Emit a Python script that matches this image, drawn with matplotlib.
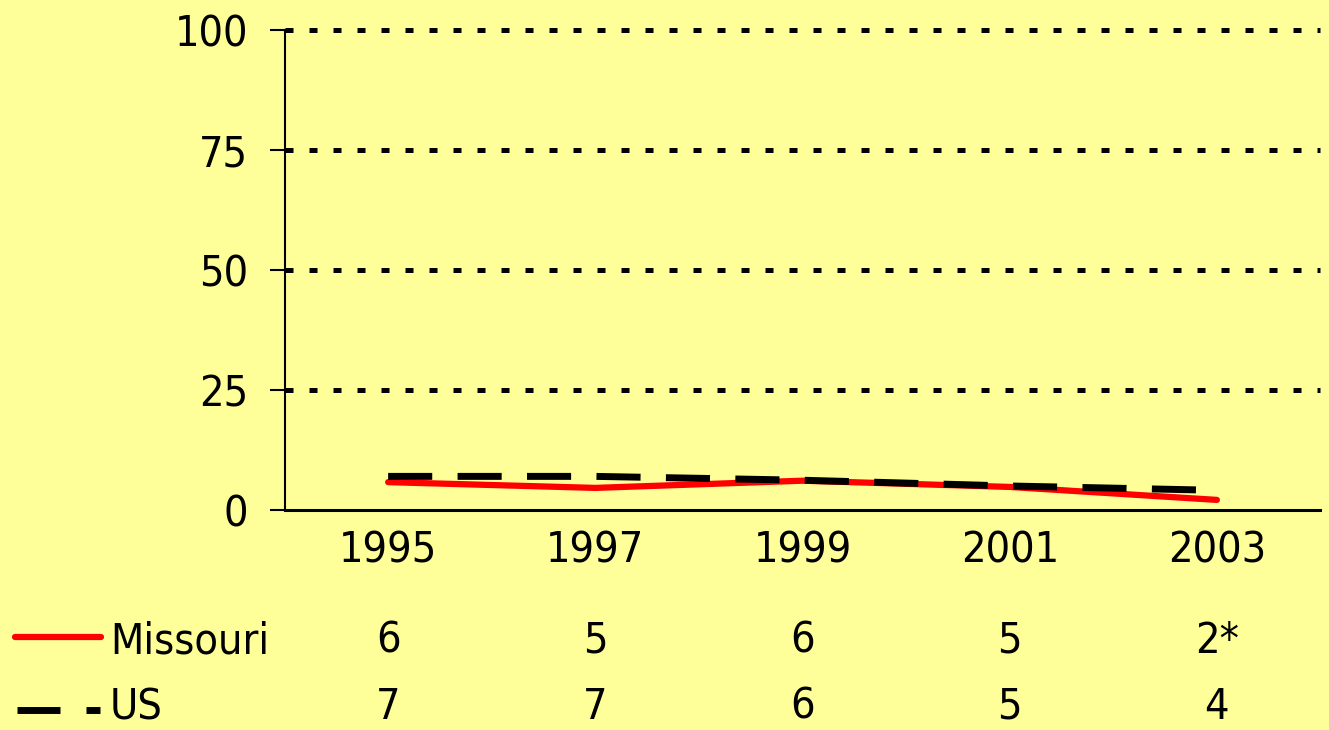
import matplotlib
matplotlib.use("Agg")
import matplotlib.pyplot as plt
from matplotlib.lines import Line2D
from matplotlib.font_manager import FontProperties

years = ["1995", "1997", "1999", "2001", "2003"]
missouri_line = [5.8, 4.6, 6.1, 4.8, 2.1]
us_line = [7.0, 7.0, 6.2, 5.0, 4.1]
missouri_labels = ["6", "5", "6", "5", "2*"]
us_labels = ["7", "7", "6", "5", "4"]
yticks = [0, 25, 50, 75, 100]

BG = "#FFFF99"
FS = 31
fp = FontProperties(family="DejaVu Sans", stretch="condensed", size=FS)

W, H = 1329, 730
fig = plt.figure(figsize=(W / 100, H / 100), dpi=100, facecolor=BG)
ax = fig.add_axes([0.2141, 0.3014, 0.7795, 0.6575], facecolor=BG)

x = list(range(len(years)))
for yv in yticks[1:]:
    ax.axhline(yv, color="black", lw=3.6, linestyle=(0, (1.6, 3.2)),
               dash_capstyle="butt", zorder=1, clip_on=False)

ax.plot(x, missouri_line, color="#FF0000", lw=4.5, solid_capstyle="round",
        solid_joinstyle="round", zorder=3)
ax.plot(x, us_line, color="black", lw=5.0, linestyle=(0, (6.35, 3.65)),
        dash_capstyle="butt", zorder=4)

ax.set_xlim(-0.5, 4.5)
ax.set_ylim(0, 100)
ax.set_xticks(x)
ax.set_xticklabels(years, fontproperties=fp)
ax.set_yticks(yticks)
ax.set_yticklabels([str(v) for v in yticks], fontproperties=fp)
ax.tick_params(axis="x", length=0, pad=14)
ax.tick_params(axis="y", length=11, width=1.5, pad=15, direction="out")
for s in ["top", "right"]:
    ax.spines[s].set_visible(False)
ax.spines["left"].set_linewidth(1.5)
ax.spines["bottom"].set_linewidth(2.2)

trans = ax.get_xaxis_transform()
base_px = [653, 719]
row_y = [(510 - b) / 480 for b in base_px]
for xi, lab in zip(x, missouri_labels):
    ax.text(xi, row_y[0], lab, transform=trans, ha="center", va="baseline",
            fontproperties=fp, clip_on=False)
for xi, lab in zip(x, us_labels):
    ax.text(xi, row_y[1], lab, transform=trans, ha="center", va="baseline",
            fontproperties=fp, clip_on=False)

fig.text(110 / W, 1 - base_px[0] / H, "Missouri", ha="left", va="baseline",
         fontproperties=fp)
fig.text(110 / W, 1 - base_px[1] / H, "US", ha="left", va="baseline",
         fontproperties=fp)
fig.add_artist(Line2D([15 / W, 101 / W], [1 - 637 / H] * 2,
                      color="#FF0000", lw=4.5, solid_capstyle="round",
                      transform=fig.transFigure))
fig.add_artist(Line2D([17 / W, 60 / W], [1 - 710 / H] * 2,
                      color="black", lw=5.0, solid_capstyle="butt",
                      transform=fig.transFigure))
fig.add_artist(Line2D([86 / W, 100 / W], [1 - 710 / H] * 2,
                      color="black", lw=5.0, solid_capstyle="butt",
                      transform=fig.transFigure))

fig.savefig("out.png", dpi=100, facecolor=BG)
